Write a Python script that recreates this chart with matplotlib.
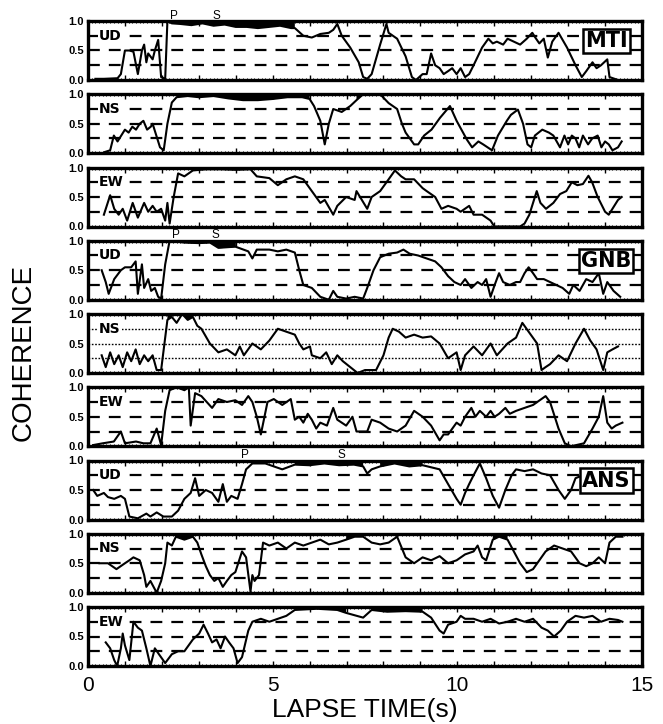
import numpy as np
import matplotlib
matplotlib.use("Agg")
import matplotlib.pyplot as plt

plt.rcParams['font.family'] = ['Liberation Sans', 'DejaVu Sans']
plt.rcParams['lines.scale_dashes'] = False

# coherence traces: (lapse time in s, coherence)
mti_ud = [(0.20, 0.02), (0.43, 0.02), (0.80, 0.03), (0.89, 0.10), (1.00, 0.50), (1.12, 0.50),
          (1.23, 0.48), (1.35, 0.10), (1.46, 0.50), (1.52, 0.60), (1.58, 0.30), (1.63, 0.45),
          (1.75, 0.35), (1.81, 0.50), (1.90, 0.68), (1.98, 0.05), (2.09, 0.02), (2.15, 1.00),
          (2.27, 0.96), (2.5, 0.95), (2.8, 0.93), (3.1, 0.96), (3.4, 0.92), (3.7, 0.94),
          (4.0, 0.90), (4.3, 0.90), (4.6, 0.88), (4.9, 0.90), (5.2, 0.92), (5.5, 0.88),
          (5.60, 0.88), (5.83, 0.75), (6.06, 0.72), (6.29, 0.78), (6.52, 0.80), (6.64, 0.85),
          (6.75, 0.95), (6.87, 0.75), (7.10, 0.55), (7.33, 0.30), (7.45, 0.05), (7.56, 0.02),
          (7.68, 0.10), (7.91, 0.60), (8.08, 0.95), (8.14, 0.80), (8.37, 0.70), (8.60, 0.40),
          (8.77, 0.05), (8.88, 0.00), (9.06, 0.10), (9.17, 0.10), (9.29, 0.45), (9.40, 0.25),
          (9.52, 0.20), (9.63, 0.10), (9.75, 0.15), (9.86, 0.20), (9.98, 0.10), (10.09, 0.20),
          (10.21, 0.05), (10.32, 0.10), (10.44, 0.25), (10.67, 0.55), (10.84, 0.70), (10.96, 0.62),
          (11.07, 0.65), (11.24, 0.60), (11.36, 0.70), (11.53, 0.65), (11.70, 0.60), (11.88, 0.70),
          (12.03, 0.80), (12.11, 0.72), (12.22, 0.62), (12.34, 0.70), (12.45, 0.38), (12.57, 0.65),
          (12.74, 0.80), (12.97, 0.55), (13.20, 0.25), (13.37, 0.05), (13.49, 0.15), (13.66, 0.30),
          (13.77, 0.20), (13.89, 0.25), (14.06, 0.35), (14.12, 0.05), (14.35, 0.00)]

mti_ns = [(0.45, 0.02), (0.6, 0.05), (0.7, 0.3), (0.8, 0.2), (0.9, 0.3), (1.0, 0.4), (1.1, 0.35),
          (1.2, 0.45), (1.3, 0.4), (1.4, 0.5), (1.5, 0.55), (1.6, 0.4), (1.7, 0.45), (1.75, 0.5),
          (1.85, 0.3), (1.95, 0.1), (2.05, 0.05), (2.15, 0.5), (2.27, 0.86), (2.4, 0.95), (2.7, 0.97),
          (3.0, 0.95), (3.4, 0.97), (3.8, 0.93), (4.2, 0.9), (4.6, 0.9), (5.0, 0.92), (5.4, 0.95),
          (5.8, 0.95), (6.0, 0.92), (6.12, 0.8), (6.29, 0.55), (6.41, 0.15), (6.52, 0.5), (6.64, 0.75),
          (6.87, 0.7), (7.10, 0.8), (7.27, 0.9), (7.45, 1.0), (7.91, 1.0), (8.14, 0.85), (8.37, 0.75),
          (8.5, 0.5), (8.6, 0.35), (8.83, 0.15), (8.94, 0.15), (9.1, 0.3), (9.3, 0.4), (9.53, 0.6),
          (9.8, 0.8), (9.98, 0.55), (10.26, 0.23), (10.4, 0.1), (10.57, 0.2), (10.7, 0.15),
          (10.94, 0.05), (11.1, 0.3), (11.34, 0.55), (11.45, 0.65), (11.64, 0.74), (11.78, 0.5),
          (11.9, 0.15), (12.0, 0.1), (12.1, 0.3), (12.3, 0.4), (12.48, 0.35), (12.6, 0.3),
          (12.78, 0.1), (12.9, 0.3), (13.0, 0.15), (13.1, 0.3), (13.2, 0.25), (13.3, 0.1),
          (13.4, 0.3), (13.54, 0.15), (13.65, 0.25), (13.8, 0.3), (13.9, 0.1), (14.0, 0.2),
          (14.1, 0.15), (14.2, 0.05), (14.35, 0.1), (14.45, 0.2)]

mti_ew = [(0.43, 0.2), (0.60, 0.53), (0.71, 0.3), (0.83, 0.2), (0.94, 0.3), (1.06, 0.1), (1.21, 0.4),
          (1.35, 0.15), (1.52, 0.4), (1.63, 0.25), (1.75, 0.35), (1.86, 0.25), (1.98, 0.3),
          (2.09, 0.1), (2.15, 0.4), (2.21, 0.05), (2.32, 0.5), (2.44, 0.9), (2.61, 0.85),
          (2.84, 0.95), (3.2, 0.97), (3.6, 0.97), (4.0, 0.96), (4.4, 0.97), (4.57, 0.85),
          (4.91, 0.82), (5.14, 0.7), (5.37, 0.8), (5.60, 0.85), (5.83, 0.8), (6.06, 0.6),
          (6.29, 0.4), (6.41, 0.45), (6.64, 0.2), (6.75, 0.35), (6.99, 0.5), (7.22, 0.45),
          (7.27, 0.6), (7.56, 0.3), (7.68, 0.5), (7.91, 0.6), (8.14, 0.8), (8.31, 0.95),
          (8.48, 0.85), (8.60, 0.8), (8.83, 0.8), (9.06, 0.65), (9.17, 0.6), (9.40, 0.5),
          (9.57, 0.3), (9.75, 0.35), (9.98, 0.3), (10.09, 0.25), (10.32, 0.35), (10.44, 0.2),
          (10.67, 0.2), (10.9, 0.1), (11.0, 0.0), (11.7, 0.0), (11.82, 0.05), (11.95, 0.2),
          (12.05, 0.4), (12.15, 0.6), (12.25, 0.4), (12.4, 0.3), (12.6, 0.4), (12.78, 0.55),
          (12.95, 0.6), (13.1, 0.75), (13.25, 0.7), (13.4, 0.72), (13.55, 0.86), (13.65, 0.75),
          (13.8, 0.5), (14.0, 0.25), (14.1, 0.2), (14.2, 0.3), (14.35, 0.45), (14.45, 0.5)]

gnb_ud = [(0.37, 0.5), (0.48, 0.3), (0.56, 0.1), (0.71, 0.35), (0.89, 0.5), (1.0, 0.55), (1.17, 0.55),
          (1.29, 0.65), (1.35, 0.1), (1.46, 0.6), (1.52, 0.2), (1.63, 0.35), (1.71, 0.15),
          (1.81, 0.2), (1.90, 0.05), (1.98, 0.02), (2.09, 0.6), (2.21, 1.0), (2.6, 0.97),
          (3.0, 0.96), (3.3, 0.97), (3.53, 0.88), (3.99, 0.9), (4.34, 0.82), (4.45, 0.7),
          (4.57, 0.85), (4.91, 0.85), (5.14, 0.82), (5.37, 0.85), (5.60, 0.8), (5.72, 0.5),
          (5.83, 0.25), (6.06, 0.2), (6.29, 0.05), (6.52, 0.0), (6.64, 0.15), (6.75, 0.05),
          (6.99, 0.02), (7.22, 0.05), (7.45, 0.02), (7.56, 0.2), (7.73, 0.5), (7.91, 0.72),
          (8.14, 0.78), (8.37, 0.8), (8.54, 0.85), (8.71, 0.78), (8.94, 0.75), (9.17, 0.7),
          (9.40, 0.65), (9.57, 0.55), (9.75, 0.4), (9.92, 0.3), (10.09, 0.25), (10.21, 0.35),
          (10.38, 0.2), (10.55, 0.3), (10.67, 0.25), (10.78, 0.35), (10.90, 0.05), (11.01, 0.25),
          (11.13, 0.45), (11.24, 0.3), (11.42, 0.25), (11.59, 0.3), (11.70, 0.3), (11.82, 0.45),
          (11.93, 0.55), (12.05, 0.45), (12.16, 0.35), (12.34, 0.35), (12.51, 0.3), (12.68, 0.25),
          (12.85, 0.2), (13.03, 0.1), (13.14, 0.25), (13.31, 0.15), (13.49, 0.35), (13.66, 0.3),
          (13.83, 0.45), (13.95, 0.1), (14.06, 0.3), (14.23, 0.15), (14.41, 0.05)]

gnb_ns = [(0.37, 0.3), (0.48, 0.1), (0.6, 0.35), (0.71, 0.15), (0.83, 0.3), (0.94, 0.1), (1.06, 0.35),
          (1.17, 0.2), (1.29, 0.4), (1.40, 0.15), (1.52, 0.3), (1.63, 0.2), (1.75, 0.3),
          (1.86, 0.05), (1.98, 0.05), (2.15, 0.9), (2.27, 0.95), (2.4, 0.85), (2.55, 1.0),
          (2.7, 0.9), (2.84, 0.95), (2.96, 0.8), (3.07, 0.75), (3.30, 0.5), (3.53, 0.35),
          (3.76, 0.4), (3.99, 0.3), (4.11, 0.45), (4.22, 0.3), (4.45, 0.5), (4.68, 0.4),
          (4.91, 0.55), (5.14, 0.75), (5.37, 0.7), (5.60, 0.65), (5.72, 0.5), (5.83, 0.4),
          (6.01, 0.45), (6.06, 0.3), (6.29, 0.25), (6.45, 0.35), (6.6, 0.15), (6.75, 0.3),
          (6.9, 0.2), (7.1, 0.1), (7.3, 0.0), (7.5, 0.05), (7.8, 0.05), (8.0, 0.3), (8.14, 0.6),
          (8.25, 0.75), (8.42, 0.7), (8.60, 0.6), (8.83, 0.65), (9.06, 0.6), (9.29, 0.62),
          (9.52, 0.5), (9.75, 0.25), (9.98, 0.35), (10.09, 0.05), (10.21, 0.3), (10.44, 0.45),
          (10.67, 0.3), (10.90, 0.5), (11.07, 0.3), (11.36, 0.5), (11.59, 0.6), (11.76, 0.85),
          (11.93, 0.7), (12.16, 0.5), (12.28, 0.05), (12.39, 0.1), (12.51, 0.15), (12.74, 0.3),
          (12.97, 0.2), (13.20, 0.5), (13.43, 0.75), (13.60, 0.55), (13.77, 0.4), (13.95, 0.05),
          (14.06, 0.35), (14.2, 0.4), (14.35, 0.45)]

gnb_ew = [(0.14, 0.02), (0.4, 0.05), (0.7, 0.08), (0.89, 0.25), (1.0, 0.05), (1.3, 0.08), (1.5, 0.05),
          (1.69, 0.05), (1.86, 0.3), (1.98, 0.02), (2.09, 0.6), (2.21, 0.95), (2.4, 1.0),
          (2.61, 0.95), (2.73, 1.0), (2.78, 0.35), (2.90, 0.9), (3.07, 0.85), (3.36, 0.65),
          (3.53, 0.8), (3.76, 0.75), (3.99, 0.78), (4.17, 0.7), (4.34, 0.85), (4.45, 0.75),
          (4.57, 0.5), (4.68, 0.2), (4.86, 0.75), (5.03, 0.8), (5.26, 0.7), (5.49, 0.8),
          (5.60, 0.45), (5.72, 0.5), (5.83, 0.4), (5.95, 0.55), (6.06, 0.45), (6.18, 0.3),
          (6.29, 0.4), (6.47, 0.35), (6.64, 0.65), (6.75, 0.45), (6.99, 0.35), (7.16, 0.5),
          (7.27, 0.25), (7.56, 0.25), (7.68, 0.45), (7.91, 0.4), (8.14, 0.3), (8.37, 0.25),
          (8.60, 0.35), (8.83, 0.6), (9.06, 0.5), (9.29, 0.35), (9.52, 0.1), (9.63, 0.2),
          (9.75, 0.2), (9.98, 0.4), (10.09, 0.35), (10.21, 0.5), (10.38, 0.65), (10.49, 0.5),
          (10.61, 0.6), (10.78, 0.5), (10.90, 0.6), (11.01, 0.5), (11.13, 0.55), (11.30, 0.65),
          (11.42, 0.55), (11.59, 0.6), (11.82, 0.65), (12.05, 0.7), (12.39, 0.85), (12.51, 0.75),
          (12.74, 0.3), (12.91, 0.05), (13.08, 0.0), (13.43, 0.05), (13.66, 0.3), (13.83, 0.5),
          (13.95, 0.85), (14.06, 0.4), (14.18, 0.3), (14.29, 0.35), (14.47, 0.4)]

ans_ud = [(0.14, 0.5), (0.25, 0.4), (0.43, 0.45), (0.54, 0.38), (0.71, 0.35), (0.89, 0.4), (1.0, 0.35),
          (1.12, 0.05), (1.35, 0.02), (1.58, 0.1), (1.69, 0.05), (1.86, 0.12), (2.04, 0.05),
          (2.27, 0.05), (2.44, 0.15), (2.61, 0.35), (2.78, 0.45), (2.90, 0.7), (3.01, 0.4),
          (3.19, 0.5), (3.36, 0.45), (3.53, 0.3), (3.65, 0.6), (3.76, 0.3), (3.88, 0.4),
          (4.05, 0.35), (4.17, 0.6), (4.28, 0.85), (4.45, 0.95), (4.8, 0.95), (5.26, 0.85),
          (5.6, 0.93), (6.0, 0.92), (6.4, 0.95), (6.8, 0.92), (7.2, 0.93), (7.45, 0.9),
          (7.56, 0.78), (7.68, 0.85), (7.91, 0.9), (8.3, 0.95), (8.7, 0.9), (9.06, 0.92),
          (9.52, 0.85), (9.75, 0.6), (9.98, 0.35), (10.09, 0.25), (10.21, 0.45), (10.32, 0.6),
          (10.44, 0.75), (10.61, 0.95), (10.78, 0.7), (10.96, 0.4), (11.13, 0.2), (11.30, 0.5),
          (11.47, 0.75), (11.59, 0.85), (11.82, 0.82), (12.05, 0.85), (12.28, 0.78), (12.51, 0.75),
          (12.74, 0.5), (12.91, 0.35), (13.08, 0.5), (13.20, 0.7), (13.4, 0.75)]

ans_ns = [(0.31, 0.5), (0.54, 0.5), (0.77, 0.4), (1.0, 0.5), (1.12, 0.55), (1.23, 0.6), (1.40, 0.55),
          (1.52, 0.3), (1.58, 0.1), (1.69, 0.2), (1.86, 0.0), (1.98, 0.2), (2.09, 0.5),
          (2.15, 0.85), (2.27, 0.8), (2.38, 0.95), (2.61, 0.9), (2.84, 0.95), (2.96, 0.85),
          (3.07, 0.65), (3.19, 0.45), (3.30, 0.3), (3.42, 0.2), (3.53, 0.25), (3.65, 0.1),
          (3.76, 0.2), (3.88, 0.3), (3.99, 0.35), (4.17, 0.7), (4.28, 0.6), (4.40, 0.02),
          (4.45, 0.3), (4.51, 0.2), (4.63, 0.3), (4.74, 0.85), (4.91, 0.8), (5.14, 0.85),
          (5.37, 0.75), (5.60, 0.85), (5.83, 0.8), (6.06, 0.85), (6.29, 0.9), (6.52, 0.82),
          (6.75, 0.85), (6.99, 0.9), (7.22, 0.95), (7.45, 0.95), (7.68, 0.85), (7.91, 0.82),
          (8.14, 0.85), (8.37, 0.95), (8.60, 0.6), (8.83, 0.5), (9.06, 0.6), (9.29, 0.55),
          (9.52, 0.62), (9.75, 0.5), (9.98, 0.55), (10.21, 0.65), (10.44, 0.7), (10.55, 0.8),
          (10.67, 0.6), (10.78, 0.55), (10.96, 0.9), (11.13, 0.95), (11.36, 0.9), (11.53, 0.7),
          (11.70, 0.5), (11.88, 0.35), (12.05, 0.4), (12.22, 0.55), (12.39, 0.7), (12.62, 0.8),
          (12.85, 0.75), (13.08, 0.7), (13.31, 0.5), (13.49, 0.45), (13.66, 0.5), (13.83, 0.6),
          (14.0, 0.5), (14.12, 0.85), (14.29, 0.95), (14.47, 0.95)]

ans_ew = [(0.48, 0.4), (0.60, 0.3), (0.71, 0.1), (0.79, 0.0), (0.89, 0.3), (0.94, 0.55), (1.0, 0.35),
          (1.12, 0.1), (1.23, 0.75), (1.35, 0.65), (1.46, 0.6), (1.58, 0.3), (1.69, 0.0),
          (1.81, 0.3), (1.92, 0.2), (2.09, 0.05), (2.27, 0.2), (2.44, 0.25), (2.61, 0.25),
          (2.84, 0.45), (3.01, 0.55), (3.13, 0.7), (3.25, 0.55), (3.36, 0.4), (3.48, 0.45),
          (3.59, 0.3), (3.71, 0.5), (3.82, 0.4), (3.94, 0.3), (4.05, 0.05), (4.17, 0.15),
          (4.34, 0.6), (4.45, 0.75), (4.68, 0.8), (4.91, 0.75), (5.14, 0.8), (5.37, 0.85),
          (5.60, 0.95), (6.2, 0.97), (6.75, 0.95), (6.99, 0.9), (7.45, 0.82), (7.68, 0.95),
          (8.1, 0.92), (8.6, 0.93), (9.06, 0.92), (9.29, 0.82), (9.52, 0.6), (9.63, 0.55),
          (9.75, 0.7), (9.98, 0.75), (10.09, 0.85), (10.21, 0.8), (10.44, 0.8), (10.67, 0.75),
          (10.90, 0.8), (11.13, 0.72), (11.36, 0.75), (11.59, 0.8), (11.82, 0.75), (12.05, 0.8),
          (12.28, 0.65), (12.45, 0.6), (12.62, 0.5), (12.80, 0.6), (12.97, 0.75), (13.20, 0.85),
          (13.43, 0.82), (13.66, 0.85), (13.89, 0.75), (14.12, 0.8), (14.35, 0.78), (14.47, 0.75)]

traces = [mti_ud, mti_ns, mti_ew, gnb_ud, gnb_ns, gnb_ew, ans_ud, ans_ns, ans_ew]
components = ["UD", "NS", "EW"] * 3
stations = ["MTI", "GNB", "ANS"]
# P and S arrival times (s) marked above each station's UD panel
p_times = [2.32, 2.38, 4.26]
s_times = [3.48, 3.44, 6.85]
xtick_labels = {0: "0", 5: "5", 10: "10", 15: "15"}

W, H = 663, 724
fig = plt.figure(figsize=(W / 100, H / 100), dpi=100)

left, width = 88, 554
top0, step, ph = 21, 73.25, 59

for k, data in enumerate(traces):
    top = top0 + step * k
    ax = fig.add_axes([left / W, 1 - (top + ph) / H, width / W, ph / H])
    t, c = np.array(data).T

    # reference lines at 0.25 / 0.5 / 0.75 (dotted in GNB NS)
    if k == 4:
        ls, glw = (0, (1.2, 1.2)), 1.0
    else:
        ls, glw = (0, (8.5, 6.5)), 1.6
    for g in (0.25, 0.5, 0.75):
        ax.axhline(g, color='black', lw=glw, ls=ls, zorder=1)

    ax.plot(t, c, color='black', lw=1.5, zorder=3, solid_joinstyle='round')
    ax.fill_between(t, c, 1.0, where=c >= 0.88, interpolate=True,
                    color='black', lw=0, zorder=3)

    ax.set_xlim(0, 15)
    ax.set_ylim(0, 1)
    ax.set_yticks([0, 0.5, 1.0])
    ax.set_yticklabels(["0.0", "0.5", "1.0"], fontsize=8, fontweight='bold')
    ax.tick_params(axis='y', length=0, pad=3)
    ax.set_xticks(np.arange(0, 16, 1))
    ax.set_xticks(np.arange(0, 15.01, 0.1), minor=True)
    ax.tick_params(axis='x', which='major', direction='in', length=3.5, width=1,
                   top=True, bottom=True)
    ax.tick_params(axis='x', which='minor', direction='in', length=1.5, width=0.7,
                   top=True, bottom=True)
    for sp in ax.spines.values():
        sp.set_linewidth(2.4)

    ax.text(0.3, 0.75, components[k], fontsize=10, fontweight='bold',
            family=['DejaVu Sans'], va='center', ha='left', zorder=4,
            bbox=dict(facecolor='white', edgecolor='none', pad=1.0))

    if k % 3 == 0:
        st = k // 3
        ax.text(14.03, 0.66, stations[st], fontsize=15, fontweight='bold',
                family=['DejaVu Sans'], ha='center', va='center', zorder=5,
                bbox=dict(boxstyle='square,pad=0.1', facecolor='white',
                          edgecolor='black', lw=1.8))
        ax.text(p_times[st], 0.99, "P", fontsize=8.5, ha='center', va='bottom')
        ax.text(s_times[st], 0.99, "S", fontsize=8.5, ha='center', va='bottom')

    if k < 8:
        ax.set_xticklabels([])
    else:
        ax.set_xticklabels([xtick_labels.get(v, "") for v in range(16)], fontsize=15)
        ax.tick_params(axis='x', which='major', pad=7)

fig.text((left + width / 2) / W, 1 - 710 / H, "LAPSE TIME(s)",
         fontsize=19, ha='center', va='center')
fig.text(24 / W, 1 - 352 / H, "COHERENCE", fontsize=20, rotation=90,
         ha='center', va='center')

fig.savefig("out.png", dpi=100)
